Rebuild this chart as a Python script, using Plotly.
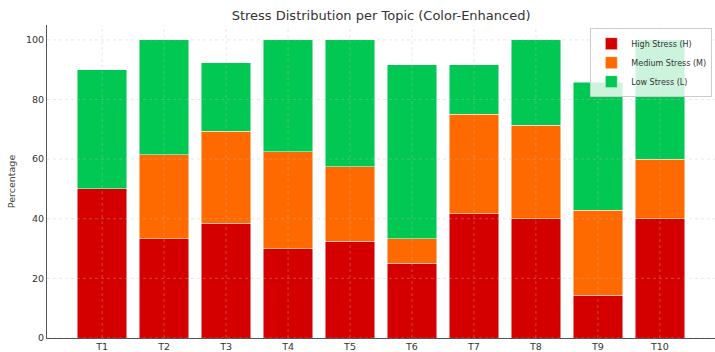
import plotly.graph_objects as go

topics = ["T1", "T2", "T3", "T4", "T5", "T6", "T7", "T8", "T9", "T10"]
high = [50.0, 33.3, 38.5, 30.0, 32.5, 25.0, 41.7, 40.0, 14.3, 40.0]
medium = [0.0, 28.2, 30.8, 32.5, 25.0, 8.3, 33.3, 31.4, 28.6, 20.0]
low = [40.0, 38.5, 23.1, 37.5, 42.5, 58.3, 16.7, 28.6, 42.9, 40.0]
series_names = ["High Stress (H)", "Medium Stress (M)", "Low Stress (L)"]
colors = ["#d40000", "#ff6a00", "#00c853"]
y_ticks = [0, 20, 40, 60, 80, 100]

font_family = "DejaVu Sans, sans-serif"
fig = go.Figure()
for name, vals, col in zip(series_names, [high, medium, low], colors):
    fig.add_trace(go.Bar(
        x=topics, y=vals, name=name, width=0.8,
        marker=dict(color=col, line=dict(color="rgba(255,255,255,0.6)", width=0.8)),
    ))

# grid lines drawn above the bars (as in the reference)
grid_style = dict(color="rgba(190,190,190,0.45)", width=0.8, dash="dot")
for yv in y_ticks:
    fig.add_shape(type="line", xref="paper", x0=0, x1=1, yref="y", y0=yv, y1=yv,
                  line=grid_style, layer="above")
for i in range(len(topics)):
    fig.add_shape(type="line", xref="x", x0=i, x1=i, yref="paper", y0=0, y1=1,
                  line=grid_style, layer="above")

fig.update_layout(
    barmode="stack",
    width=715, height=352,
    margin=dict(l=47, r=0, t=25, b=10),
    plot_bgcolor="white", paper_bgcolor="white",
    font=dict(family=font_family, size=9.5, color="#333333"),
    title=dict(text="Stress Distribution per Topic (Color-Enhanced)",
               x=0.533, xanchor="center", y=0.957, yanchor="middle",
               font=dict(size=13, color="#333333")),
    showlegend=True,
    legend=dict(x=0.996, xanchor="right", y=0.99, yanchor="top",
                bgcolor="rgba(255,255,255,0.8)", bordercolor="#cccccc", borderwidth=1,
                font=dict(size=8, color="#333333"), tracegroupgap=0,
                itemwidth=30, traceorder="normal"),
    xaxis=dict(range=[-0.89, 9.89], showgrid=False, showline=True,
               linecolor="#555555", linewidth=1, ticks="", tickfont=dict(size=9.5),
               zeroline=False),
    yaxis=dict(range=[0, 105], tickvals=y_ticks, showgrid=False, showline=True,
               linecolor="#555555", linewidth=1, ticks="", zeroline=False,
               title=dict(text="Percentage", font=dict(size=9.5, color="#444444"), standoff=8),
               tickfont=dict(size=9.5)),
)
fig.write_html("out.html", config={"displayModeBar": False},
               post_script="document.body.style.margin='0';document.body.style.padding='0';")
